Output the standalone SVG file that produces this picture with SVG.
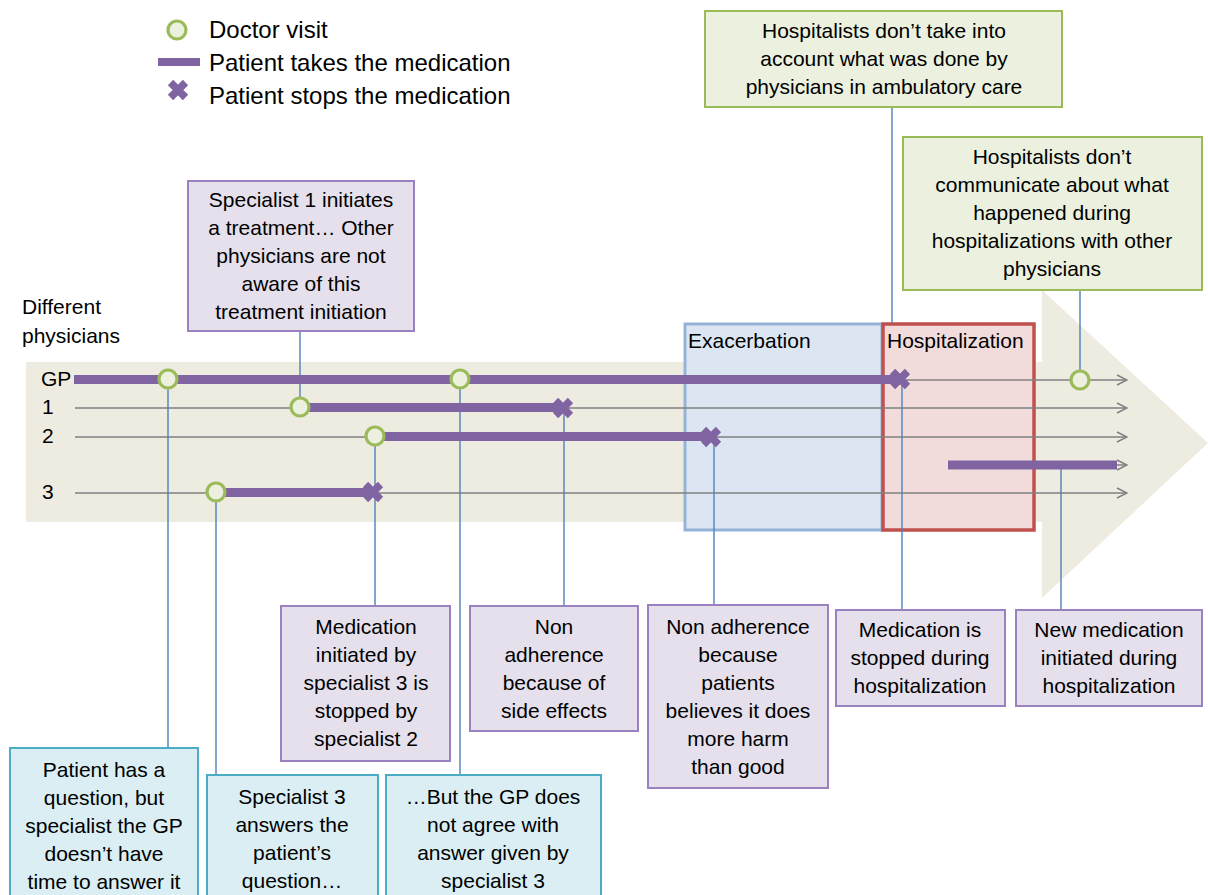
<svg xmlns="http://www.w3.org/2000/svg" width="1208" height="895" viewBox="0 0 1208 895">
  <style>
    text { font-family: "Liberation Sans", Arial, sans-serif; fill: #000; }
    .t { font-size: 21px; text-anchor: middle; }
    .lg { font-size: 24px; }
    .lbl { font-size: 21px; }
    .green { fill: #EBF1DE; stroke: #9BBB59; stroke-width: 2; }
    .lilac { fill: #E5E0EC; stroke: #9A82C0; stroke-width: 2; }
    .teal { fill: #DAEEF3; stroke: #4BACC6; stroke-width: 2; }
    .track { stroke: #808080; stroke-width: 1.5; fill: none; marker-end: url(#open); }
    .bar { stroke: #8064A2; stroke-width: 9; fill: none; }
    .link { stroke: #4F81BD; stroke-width: 1.4; fill: none; }
    .visit { fill: #EBF1DE; stroke: #9BBB59; stroke-width: 3.2; }
  </style>
  <defs>
    <marker id="open" viewBox="0 0 12 12" refX="11" refY="6" markerWidth="12" markerHeight="12" markerUnits="userSpaceOnUse" orient="auto">
      <path d="M1,1 L11,6 L1,11" fill="none" stroke="#808080" stroke-width="1.5"/>
    </marker>
    <path id="stop" d="M-7.5,-7.5 L7.5,7.5 M-7.5,7.5 L7.5,-7.5" stroke="#8064A2" stroke-width="7.5" fill="none"/>
  </defs>

  <!-- legend -->
  <g id="legend">
    <circle class="visit" cx="177" cy="30" r="9"/>
    <text class="lg" x="209" y="38">Doctor visit</text>
    <line x1="158" y1="62" x2="200" y2="62" stroke="#8064A2" stroke-width="8"/>
    <text class="lg" x="209" y="71">Patient takes the medication</text>
    <use href="#stop" x="178" y="90"/>
    <text class="lg" x="209" y="104">Patient stops the medication</text>
  </g>

  <!-- timeline background arrow -->
  <polygon id="timeline" points="26,362 1042,362 1042,290 1208,443 1042,598 1042,522 26,522" fill="#EEECE1"/>

  <!-- phases -->
  <g id="exacerbation">
    <rect x="685" y="324" width="197" height="206" fill="#DCE6F2" stroke="#95B3D7" stroke-width="3"/>
    <text class="lbl" x="688" y="348">Exacerbation</text>
  </g>
  <g id="hospitalization">
    <rect x="883" y="324" width="151" height="206" fill="#F2DCDB" stroke="#C0504D" stroke-width="3.5"/>
    <text class="lbl" x="887" y="348">Hospitalization</text>
  </g>

  <!-- axis labels -->
  <g id="axis-labels">
    <text class="lbl" x="22" y="314">Different</text>
    <text class="lbl" x="22" y="343">physicians</text>
    <text class="lbl" x="41" y="386">GP</text>
    <text class="lbl" x="42" y="414">1</text>
    <text class="lbl" x="42" y="443">2</text>
    <text class="lbl" x="42" y="499">3</text>
  </g>

  <!-- physician tracks -->
  <g id="tracks">
    <line class="track" x1="900" y1="380" x2="1127" y2="380"/>
    <line class="track" x1="75" y1="408" x2="1127" y2="408"/>
    <line class="track" x1="75" y1="437" x2="1127" y2="437"/>
    <line class="track" x1="948" y1="465" x2="1127" y2="465"/>
    <line class="track" x1="75" y1="493" x2="1127" y2="493"/>
  </g>

  <!-- connectors -->
  <g id="connectors">
    <line class="link" x1="168" y1="380" x2="168" y2="748"/>
    <line class="link" x1="216" y1="492" x2="216" y2="775"/>
    <line class="link" x1="460" y1="380" x2="460" y2="775" stroke="#9F8AC2"/>
    <line class="link" x1="375" y1="436" x2="375" y2="606"/>
    <line class="link" x1="300" y1="331" x2="300" y2="407"/>
    <line class="link" x1="564" y1="408" x2="564" y2="606"/>
    <line class="link" x1="714" y1="437" x2="714" y2="605"/>
    <line class="link" x1="902" y1="380" x2="902" y2="610"/>
    <line class="link" x1="892" y1="107" x2="892" y2="323"/>
    <line class="link" x1="1080" y1="290" x2="1080" y2="380"/>
    <line class="link" x1="1061" y1="465" x2="1061" y2="610"/>
  </g>

  <!-- medication periods -->
  <g id="medication">
    <line class="bar" x1="74" y1="379.5" x2="898" y2="379.5"/>
    <line class="bar" x1="300" y1="407.5" x2="563" y2="407.5"/>
    <line class="bar" x1="375" y1="436.5" x2="711" y2="436.5"/>
    <line class="bar" x1="216" y1="492.5" x2="373" y2="492.5"/>
    <line class="bar" x1="948" y1="465" x2="1117" y2="465"/>
  </g>

  <!-- visits and stops -->
  <g id="events">
    <circle class="visit" cx="168" cy="379" r="9"/>
    <circle class="visit" cx="460" cy="379" r="9"/>
    <circle class="visit" cx="300" cy="407" r="9"/>
    <circle class="visit" cx="375" cy="436" r="9"/>
    <circle class="visit" cx="216" cy="492" r="9"/>
    <circle class="visit" cx="1080" cy="380" r="9"/>
    <use href="#stop" x="563" y="408"/>
    <use href="#stop" x="711" y="437"/>
    <use href="#stop" x="373" y="492"/>
    <use href="#stop" x="900" y="379"/>
  </g>

  <!-- notes -->
  <g id="note-ambulatory">
    <rect class="green" x="705" y="11" width="357" height="96"/>
    <text class="t" x="884" y="38">Hospitalists don’t take into</text>
    <text class="t" x="884" y="66">account what was done by</text>
    <text class="t" x="884" y="94">physicians in ambulatory care</text>
  </g>
  <g id="note-communicate">
    <rect class="green" x="903" y="137" width="299" height="153"/>
    <text class="t" x="1052" y="164">Hospitalists don’t</text>
    <text class="t" x="1052" y="192">communicate about what</text>
    <text class="t" x="1052" y="220">happened during</text>
    <text class="t" x="1052" y="248">hospitalizations with other</text>
    <text class="t" x="1052" y="276">physicians</text>
  </g>
  <g id="note-specialist1">
    <rect class="lilac" x="188" y="181" width="226" height="150"/>
    <text class="t" x="301" y="207">Specialist 1 initiates</text>
    <text class="t" x="301" y="235">a treatment… Other</text>
    <text class="t" x="301" y="263">physicians are not</text>
    <text class="t" x="301" y="291">aware of this</text>
    <text class="t" x="301" y="319">treatment initiation</text>
  </g>
  <g id="note-stopped-by-2">
    <rect class="lilac" x="281" y="606" width="169" height="155"/>
    <text class="t" x="366" y="634">Medication</text>
    <text class="t" x="366" y="662">initiated by</text>
    <text class="t" x="366" y="690">specialist 3 is</text>
    <text class="t" x="366" y="718">stopped by</text>
    <text class="t" x="366" y="746">specialist 2</text>
  </g>
  <g id="note-side-effects">
    <rect class="lilac" x="470" y="606" width="168" height="125"/>
    <text class="t" x="554" y="634">Non</text>
    <text class="t" x="554" y="662">adherence</text>
    <text class="t" x="554" y="690">because of</text>
    <text class="t" x="554" y="718">side effects</text>
  </g>
  <g id="note-harm">
    <rect class="lilac" x="648" y="605" width="180" height="183"/>
    <text class="t" x="738" y="634">Non adherence</text>
    <text class="t" x="738" y="662">because</text>
    <text class="t" x="738" y="690">patients</text>
    <text class="t" x="738" y="718">believes it does</text>
    <text class="t" x="738" y="746">more harm</text>
    <text class="t" x="738" y="774">than good</text>
  </g>
  <g id="note-stopped-hospital">
    <rect class="lilac" x="836" y="610" width="169" height="96"/>
    <text class="t" x="920" y="637">Medication is</text>
    <text class="t" x="920" y="665">stopped during</text>
    <text class="t" x="920" y="693">hospitalization</text>
  </g>
  <g id="note-new-medication">
    <rect class="lilac" x="1016" y="610" width="186" height="96"/>
    <text class="t" x="1109" y="637">New medication</text>
    <text class="t" x="1109" y="665">initiated during</text>
    <text class="t" x="1109" y="693">hospitalization</text>
  </g>
  <g id="note-gp-time">
    <rect class="teal" x="10" y="748" width="188" height="160"/>
    <text class="t" x="104" y="777">Patient has a</text>
    <text class="t" x="104" y="805">question, but</text>
    <text class="t" x="104" y="833">specialist the GP</text>
    <text class="t" x="104" y="861">doesn’t have</text>
    <text class="t" x="104" y="889">time to answer it</text>
  </g>
  <g id="note-specialist3">
    <rect class="teal" x="207" y="775" width="171" height="133"/>
    <text class="t" x="292" y="804">Specialist 3</text>
    <text class="t" x="292" y="832">answers the</text>
    <text class="t" x="292" y="860">patient’s</text>
    <text class="t" x="292" y="888">question…</text>
  </g>
  <g id="note-gp-disagrees">
    <rect class="teal" x="386" y="775" width="215" height="133"/>
    <text class="t" x="493" y="804">…But the GP does</text>
    <text class="t" x="493" y="832">not agree with</text>
    <text class="t" x="493" y="860">answer given by</text>
    <text class="t" x="493" y="888">specialist 3</text>
  </g>
</svg>
